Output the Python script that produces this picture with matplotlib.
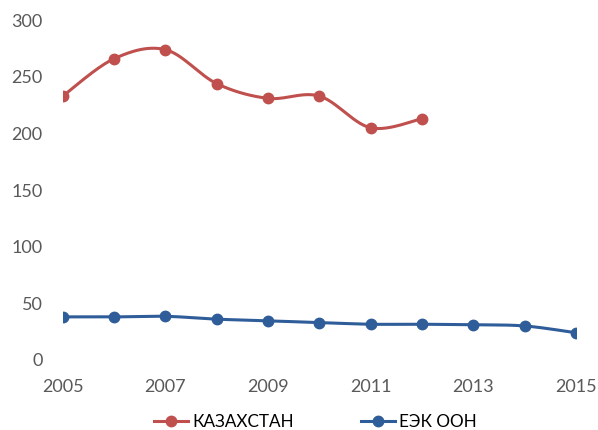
import numpy as np
import matplotlib
matplotlib.use("Agg")
import matplotlib.pyplot as plt
from matplotlib.lines import Line2D

years_kz = [2005, 2006, 2007, 2008, 2009, 2010, 2011, 2012]
kazakhstan = [233, 266, 274, 244, 231, 233, 205, 213]
years_unece = [2005, 2006, 2007, 2008, 2009, 2010, 2011, 2012, 2013, 2014, 2015]
unece = [38, 38, 38.5, 36, 34.5, 33, 31.5, 31.5, 31, 30, 24]
xticks = [2005, 2007, 2009, 2011, 2013, 2015]
yticks = [0, 50, 100, 150, 200, 250, 300]
labels = ["КАЗАХСТАН", "ЕЭК ООН"]

RED = "#C0504D"
BLUE = "#2F5D99"
GREY = "#595959"
plt.rcParams['font.family'] = ['Lato', 'DejaVu Sans']


def smooth(x, y, n=30):
    x = np.asarray(x, float)
    y = np.asarray(y, float)
    px = np.concatenate([[x[0]], x, [x[-1]]])
    py = np.concatenate([[y[0]], y, [y[-1]]])
    xs, ys = [], []
    t = np.linspace(0, 1, n)
    for i in range(1, len(px) - 2):
        p0 = np.array([px[i], py[i]])
        p3 = np.array([px[i + 1], py[i + 1]])
        c1 = p0 + (np.array([px[i + 1], py[i + 1]]) - np.array([px[i - 1], py[i - 1]])) / 6
        c2 = p3 - (np.array([px[i + 2], py[i + 2]]) - np.array([px[i], py[i]])) / 6
        b = ((1 - t) ** 3)[:, None] * p0 + (3 * (1 - t) ** 2 * t)[:, None] * c1 \
            + (3 * (1 - t) * t ** 2)[:, None] * c2 + (t ** 3)[:, None] * p3
        xs.extend(b[:, 0])
        ys.extend(b[:, 1])
    return xs, ys


fig = plt.figure(figsize=(5.98, 4.30), dpi=100)
ax = fig.add_axes([0.105, 0.163, 0.858, 0.79])

for xx, yy, c in [(years_kz, kazakhstan, RED), (years_unece, unece, BLUE)]:
    sx, sy = smooth(xx, yy)
    ax.plot(sx, sy, color=c, lw=2.2, solid_capstyle='round', zorder=2)
    ax.plot(xx, yy, 'o', color=c, ms=7.5, zorder=3)

ax.set_xlim(2005, 2015)
ax.set_ylim(0, 300)
ax.set_xticks(xticks)
ax.set_yticks(yticks)
ax.tick_params(length=0, labelsize=13, colors=GREY)
ax.tick_params(axis='x', pad=14)
ax.tick_params(axis='y', pad=14.5)
for s in ax.spines.values():
    s.set_visible(False)
for lab in ax.get_xticklabels() + ax.get_yticklabels():
    lab.set_clip_on(False)

handles = [Line2D([], [], color=RED, lw=2.2, marker='o', ms=7.5),
           Line2D([], [], color=BLUE, lw=2.2, marker='o', ms=7.5)]
fig.legend(handles, labels, loc='center', bbox_to_anchor=(0.528, 0.018), ncol=2,
           frameon=False, fontsize=12.3, labelcolor='#000000', handlelength=2.0,
           handletextpad=0.25, columnspacing=3.9, borderpad=0, borderaxespad=0)

fig.savefig("out.png", dpi=100)
